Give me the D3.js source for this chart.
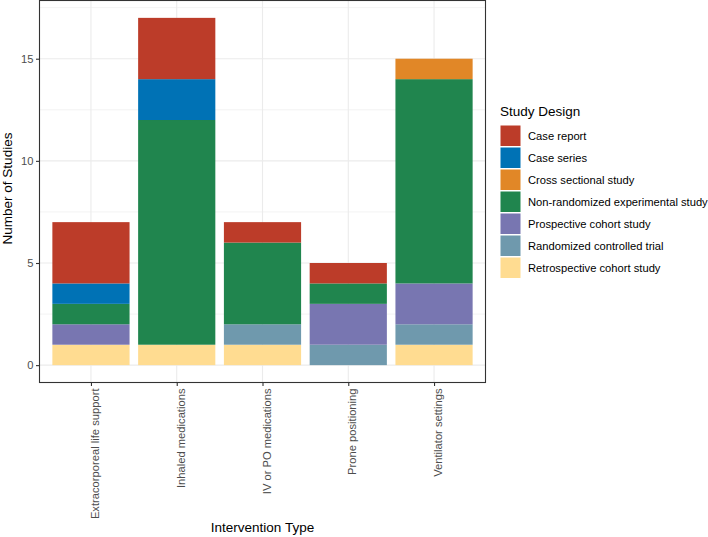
<!DOCTYPE html>
<html>
<head>
<meta charset="utf-8">
<script src="https://cdn.jsdelivr.net/npm/d3@7"></script>
<style>
  html, body { margin: 0; padding: 0; background: #fff; }
  svg { display: block; font-family: "Liberation Sans", Arial, Helvetica, sans-serif; }
</style>
</head>
<body>
<svg id="chart" width="708" height="537"></svg>
<script>
// ---- Data ----
const categories = ["Extracorporeal life support", "Inhaled medications", "IV or PO medications", "Prone positioning", "Ventilator settings"];
const designs = ["Case report", "Case series", "Cross sectional study", "Non-randomized experimental study", "Prospective cohort study", "Randomized controlled trial", "Retrospective cohort study"];
const colors = ["#BC3C29", "#0072B5", "#E18727", "#20854E", "#7876B1", "#6F99AD", "#FFDC91"];
// counts per design (in legend order) for each category
const caseReport       = [3, 3, 1, 1, 0];
const caseSeries       = [1, 2, 0, 0, 0];
const crossSectional   = [0, 0, 0, 0, 1];
const nonRandomized    = [1, 11, 4, 1, 10];
const prospective      = [1, 0, 0, 2, 2];
const randomized       = [0, 0, 1, 1, 1];
const retrospective    = [1, 1, 1, 0, 1];
const yTicks = [0, 5, 10, 15];
const yMinor = [2.5, 7.5, 12.5, 17.5];

const seriesValues = [caseReport, caseSeries, crossSectional, nonRandomized, prospective, randomized, retrospective];

// ---- Layout ----
const svg = d3.select("#chart");
const panel = { left: 39.5, right: 485.5, top: 0.5, bottom: 382.5 };

const rows = categories.map((c, i) => {
  const r = { category: c };
  designs.forEach((d, j) => { r[d] = seriesValues[j][i]; });
  return r;
});
const totals = rows.map(r => d3.sum(designs, d => r[d]));
const yMax = d3.max(totals);

// ggplot discrete: each category 1 unit, expansion 0.6 on each side, bar width 0.9
const step = (panel.right - panel.left) / (categories.length - 1 + 1.2);
const xc = d3.scalePoint().domain(categories)
  .range([panel.left + 0.6 * step, panel.right - 0.6 * step]);
const barW = 0.9 * step;

const y = d3.scaleLinear().domain([-0.05 * yMax, yMax * 1.05]).range([panel.bottom, panel.top]);

// Stack: bottom is last design (reverse legend order)
const stack = d3.stack().keys(designs.slice().reverse());
const stacked = stack(rows);

// ---- Panel background and grid ----
svg.append("rect").attr("x", panel.left).attr("y", panel.top)
  .attr("width", panel.right - panel.left).attr("height", panel.bottom - panel.top)
  .attr("fill", "#fff");

const grid = svg.append("g");
grid.selectAll("line.minor").data(yMinor).join("line")
  .attr("x1", panel.left).attr("x2", panel.right)
  .attr("y1", d => y(d)).attr("y2", d => y(d))
  .attr("stroke", "#EBEBEB").attr("stroke-width", 0.6);
grid.selectAll("line.major").data(yTicks).join("line")
  .attr("x1", panel.left).attr("x2", panel.right)
  .attr("y1", d => y(d)).attr("y2", d => y(d))
  .attr("stroke", "#EBEBEB").attr("stroke-width", 1.1);
grid.selectAll("line.vmajor").data(categories).join("line")
  .attr("y1", panel.top).attr("y2", panel.bottom)
  .attr("x1", d => xc(d)).attr("x2", d => xc(d))
  .attr("stroke", "#EBEBEB").attr("stroke-width", 1.1);

// ---- Bars ----
const colorOf = d3.scaleOrdinal().domain(designs).range(colors);
svg.append("g").selectAll("g").data(stacked).join("g")
  .attr("fill", s => colorOf(s.key))
  .selectAll("rect").data(s => s.filter(d => d[1] - d[0] > 0)).join("rect")
  .attr("x", d => xc(d.data.category) - barW / 2)
  .attr("width", barW)
  .attr("y", d => y(d[1]))
  .attr("height", d => y(d[0]) - y(d[1]));

// ---- Panel border ----
svg.append("rect").attr("x", panel.left).attr("y", panel.top)
  .attr("width", panel.right - panel.left).attr("height", panel.bottom - panel.top)
  .attr("fill", "none").attr("stroke", "#333333").attr("stroke-width", 1.1);

// ---- Axes ----
const yAxis = d3.axisLeft(y).tickValues(yTicks).tickSize(3.5).tickPadding(2.5).tickFormat(d3.format("d"));
const gy = svg.append("g").attr("transform", `translate(${panel.left},0)`).call(yAxis);
gy.select(".domain").remove();
gy.selectAll(".tick line").attr("stroke", "#333333").attr("stroke-width", 1.1);
gy.selectAll(".tick text").attr("fill", "#4D4D4D").attr("font-size", 11.2)
  .attr("font-family", "Liberation Sans, Arial, sans-serif");

const xAxis = d3.axisBottom(xc).tickSize(3.5).tickPadding(0);
const gx = svg.append("g").attr("transform", `translate(0,${panel.bottom})`).call(xAxis);
gx.select(".domain").remove();
gx.selectAll(".tick line").attr("stroke", "#333333").attr("stroke-width", 1.1);
gx.selectAll(".tick text")
  .attr("fill", "#4D4D4D").attr("font-size", 11.2)
  .attr("font-family", "Liberation Sans, Arial, sans-serif")
  .attr("text-anchor", "end")
  .attr("dy", null)
  .attr("y", 0)
  .attr("transform", "translate(7.5,6) rotate(-90)");

// Axis titles
svg.append("text").attr("x", (panel.left + panel.right) / 2).attr("y", 532)
  .attr("text-anchor", "middle").attr("font-size", 13.5).attr("fill", "#000")
  .text("Intervention Type");
svg.append("text").attr("transform", `translate(12.3,${(panel.top + panel.bottom) / 2 - 3}) rotate(-90)`)
  .attr("text-anchor", "middle").attr("font-size", 13.5).attr("fill", "#000")
  .text("Number of Studies");

// ---- Legend ----
const lg = svg.append("g").attr("transform", "translate(500,0)");
lg.append("text").attr("x", 0).attr("y", 116).attr("font-size", 13.5).attr("fill", "#000")
  .text("Study Design");
const items = lg.selectAll("g.item").data(designs).join("g")
  .attr("transform", (d, i) => `translate(0,${125 + i * 22})`);
items.append("rect").attr("x", 0.5).attr("y", 0.5).attr("width", 20).attr("height", 20.5)
  .attr("fill", d => colorOf(d));
items.append("text").attr("x", 28).attr("y", 14.5).attr("font-size", 11.2).attr("fill", "#000")
  .text(d => d);
</script>
</body>
</html>
